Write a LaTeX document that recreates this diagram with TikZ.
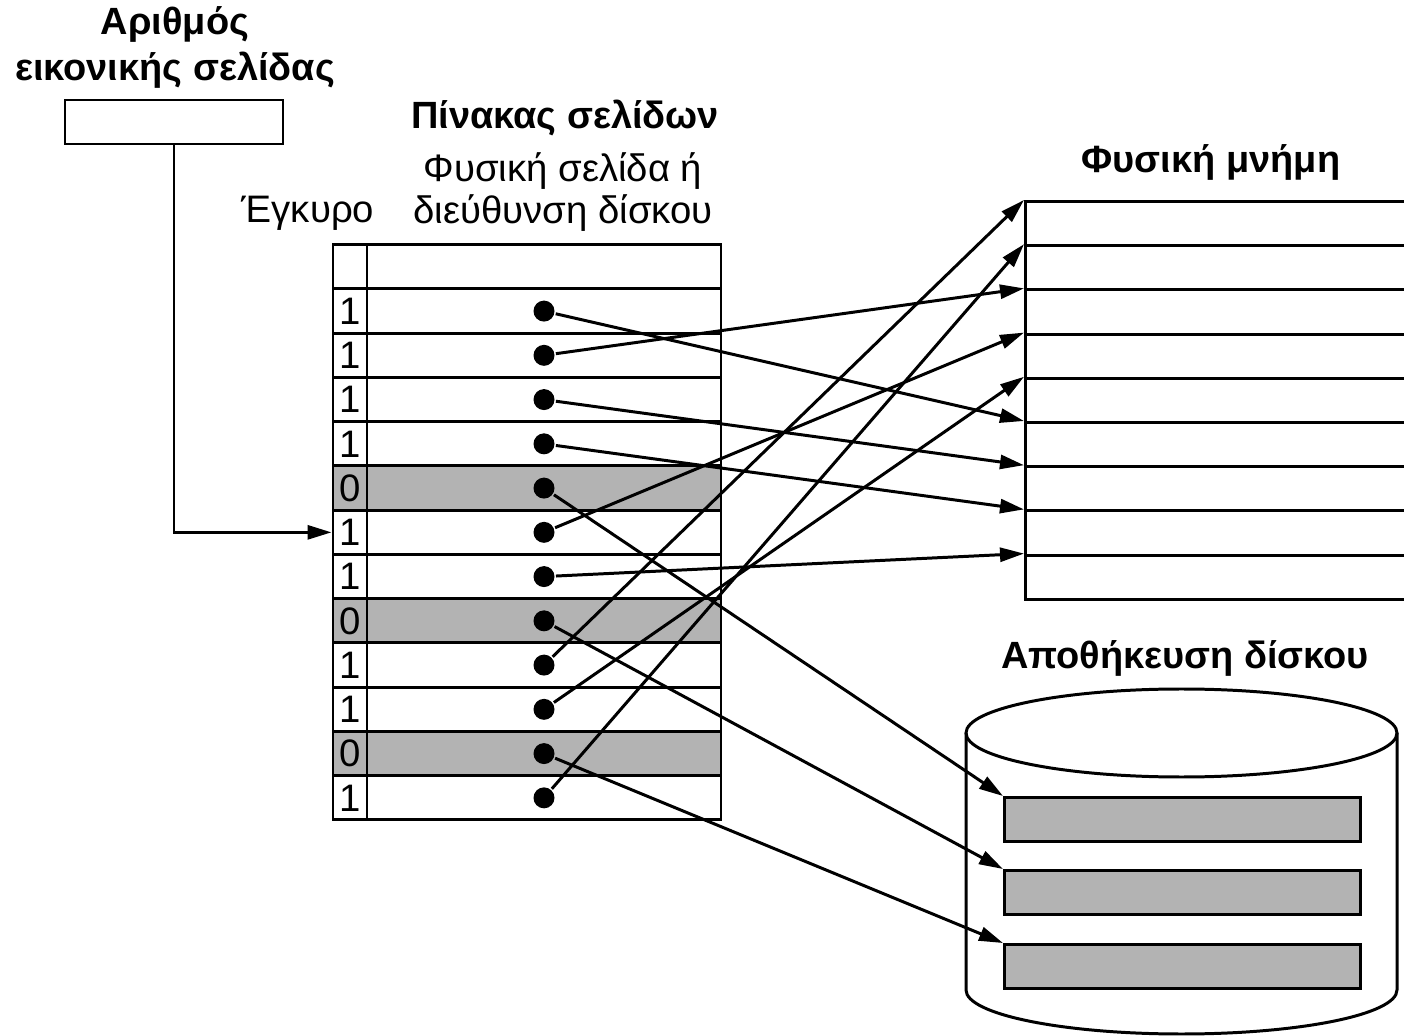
\documentclass[tikz,border=0pt]{standalone}
\usepackage{fontspec}
\setmainfont{Liberation Sans}
\usetikzlibrary{arrows.meta, positioning}
\definecolor{slotgray}{RGB}{179,179,179}

\begin{document}
\begin{tikzpicture}[x=0.1mm, y=-0.1mm, line width=0.85pt,
  font=\fontsize{10.9}{12}\selectfont,
  heading/.style={font=\fontsize{10.8}{13.1}\selectfont\bfseries, align=center},
  validcell/.style={draw, minimum width=3.4mm, minimum height=4.425mm, inner sep=0pt},
  entrycell/.style={draw, minimum width=35.4mm, minimum height=4.425mm, inner sep=0pt},
  pagedot/.style={circle, fill, inner sep=0pt, minimum size=2.1mm},
  memframe/.style={draw, anchor=north west, minimum width=42mm, minimum height=4.42mm, inner sep=0pt},
  diskblock/.style={draw, fill=slotgray, anchor=north west, minimum width=35.6mm, minimum height=4.4mm, inner sep=0pt},
  link/.style={-{Triangle[length=2.4mm, width=1.4mm]}}
]
\useasboundingbox (0,0) rectangle (1404,1036);
\clip (0,0) rectangle (1404,1036);

% virtual page number
\node[heading] (vpnlabel) at (175,47) {Αριθμός\\εικονικής σελίδας};
\node[draw, minimum width=21.8mm, minimum height=4.4mm, inner sep=0pt] (vpn) at (174,122) {};

% page table
\node[heading] (tablelabel) at (565,118) {Πίνακας σελίδων};
\node[align=center] (entrylabel) at (563,192) {Φυσική σελίδα ή\\διεύθυνση δίσκου};
\node (validlabel) at (308,213) {Έγκυρο};
\node[validcell] (vh) at (350,267) {};
\node[entrycell] (eh) at (544,267) {};
\foreach \v/\c [count=\i] in {1/white,1/white,1/white,1/white,0/slotgray,1/white,
                              1/white,0/slotgray,1/white,1/white,0/slotgray,1/white} {
  \pgfmathsetmacro\y{311.1+(\i-1)*44.25}
  \node[validcell, fill=\c] (v\i) at (350,\y) {\v};
  \node[entrycell, fill=\c] (e\i) at (544,\y) {};
  \node[pagedot] (d\i) at (e\i.center) {};
}

% physical memory
\node[heading] (memlabel) at (1211,162) {Φυσική μνήμη};
\foreach \k in {0,...,8}
  \node[memframe] (m\k) at (1024,{200+\k*44.2}) {};

% disk storage
\node[heading] (disklabel) at (1185,658) {Αποθήκευση δίσκου};
\draw (966,733) -- (966,990) arc[start angle=180, end angle=0, x radius=215.5, y radius=44] -- (1397,733);
\draw (1181.5,733) ellipse [x radius=215.5, y radius=44];
\node[diskblock] (b1) at (1003,796) {};
\node[diskblock] (b2) at (1003,869) {};
\node[diskblock] (b3) at (1003,943) {};

% mappings
\draw[link] (vpn.south) |- (v6.west);
\draw[link] (d1) -- (m5.north west);
\draw[link] (d2) -- (m2.north west);
\draw[link] (d3) -- (m6.north west);
\draw[link] (d4) -- (m7.north west);
\draw[link] (d5) -- (b1.north west);
\draw[link] (d6) -- (m3.north west);
\draw[link] (d7) -- (m8.north west);
\draw[link] (d8) -- (b2.north west);
\draw[link] (d9) -- (m0.north west);
\draw[link] (d10) -- (m4.north west);
\draw[link] (d11) -- (b3.north west);
\draw[link] (d12) -- (m1.north west);
\end{tikzpicture}
\end{document}
